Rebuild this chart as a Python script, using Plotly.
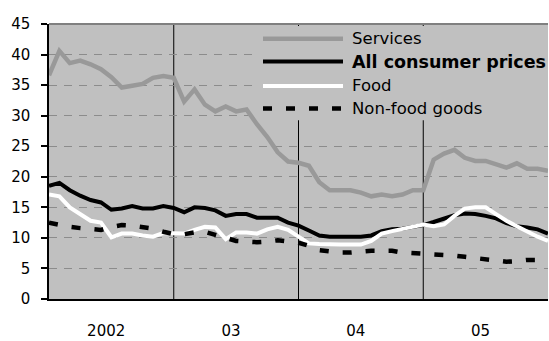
import plotly.graph_objects as go

# Monthly inflation rates, Jan 2002 - Jan 2006 (percent, year on year)
month_index = list(range(49))

services = [36.6, 40.6, 38.6, 39.0, 38.4, 37.6, 36.3, 34.6, 34.9, 35.2, 36.2, 36.5,
            36.2, 32.3, 34.3, 31.8, 30.7, 31.5, 30.7, 31.0, 28.6, 26.5, 24.0, 22.5,
            22.3, 21.8, 19.1, 17.8, 17.8, 17.8, 17.4, 16.8, 17.1, 16.8, 17.1, 17.8,
            17.8, 22.8, 23.8, 24.4, 23.1, 22.6, 22.6, 22.0, 21.5, 22.2, 21.3, 21.3,
            21.0]

all_consumer = [18.5, 19.0, 17.8, 16.9, 16.2, 15.8, 14.6, 14.8, 15.2, 14.8, 14.8, 15.2,
                14.9, 14.2, 15.0, 14.9, 14.5, 13.6, 13.9, 13.9, 13.3, 13.3, 13.3, 12.5,
                12.0, 11.2, 10.4, 10.2, 10.2, 10.2, 10.2, 10.4, 11.1, 11.4, 11.5, 11.8,
                12.1, 12.6, 13.2, 13.7, 14.0, 13.9, 13.6, 13.2, 12.4, 11.9, 11.7, 11.4,
                10.7]

food = [17.1, 16.8, 15.0, 13.8, 12.8, 12.5, 10.1, 10.7, 10.7, 10.4, 10.2, 10.8,
        10.8, 10.7, 11.3, 11.8, 11.7, 9.8, 10.9, 10.9, 10.7, 11.4, 11.8, 11.3,
        10.2, 9.1, 9.0, 8.9, 8.9, 8.9, 8.9, 9.5, 10.7, 11.1, 11.5, 11.8,
        12.2, 11.9, 12.2, 13.6, 14.8, 15.0, 15.0, 13.9, 12.8, 11.9, 11.0, 10.2,
        9.5]

non_food = [12.5, 12.1, 11.8, 11.6, 11.4, 11.3, 11.8, 12.1, 12.0, 11.8, 11.5, 11.0,
            10.6, 10.6, 10.9, 11.0, 10.5, 10.0, 9.5, 9.4, 9.3, 9.4, 9.6, 9.4,
            9.2, 8.7, 8.0, 7.8, 7.6, 7.6, 7.8, 7.9, 7.9, 7.9, 7.6, 7.5,
            7.5, 7.3, 7.2, 7.1, 6.9, 6.7, 6.5, 6.4, 6.1, 6.2, 6.4, 6.4,
            6.4]

year_labels = ["2002", "03", "04", "05"]
year_starts = [0, 12, 24, 36]
year_breaks = [12, 24, 36]
y_ticks = [0, 5, 10, 15, 20, 25, 30, 35, 40, 45]

legend_names = ["Services", "<b>All consumer prices</b>", "Food", "Non-food goods"]
legend_sizes = [16.5, 17.5, 16.5, 16.5]

GREY_LINE = "#999999"
PLOT_BG = "#c0c0c0"
FONT = "DejaVu Sans"

series = [
    (services, dict(color=GREY_LINE, width=4.5)),
    (all_consumer, dict(color="black", width=4)),
    (food, dict(color="white", width=4)),
    (non_food, dict(color="black", width=4.5, dash="9px,14px")),
]

fig = go.Figure()
for values, line in series:
    fig.add_trace(go.Scatter(x=month_index, y=values, mode="lines", line=line,
                             showlegend=False, hoverinfo="skip"))

shapes = []
# year separators
for xb in year_breaks:
    shapes.append(dict(type="line", xref="x", yref="paper", x0=xb, x1=xb, y0=0, y1=1,
                       line=dict(color="black", width=1), layer="below"))
# top frame line
shapes.append(dict(type="line", xref="paper", yref="paper", x0=0, x1=1, y0=1, y1=1,
                   line=dict(color="#808080", width=2), layer="above"))

# legend panel, drawn by hand so the swatches can be long
W, H, L, T = 499.0, 283.0, 49.0, 24.0
def px_x(p):
    return (p - L) / W
def px_y(p):
    return 1 - (p - T) / H

shapes.append(dict(type="rect", xref="paper", yref="paper",
                   x0=px_x(258), x1=1.0, y0=px_y(123), y1=px_y(26),
                   fillcolor=PLOT_BG, line=dict(width=0), layer="above"))

rows_px = [39.3, 62.7, 87.7, 111.0]
annotations = []
for (values, line), name, size, ry in zip(series, legend_names, legend_sizes, rows_px):
    shapes.append(dict(type="line", xref="paper", yref="paper",
                       x0=px_x(263), x1=px_x(343), y0=px_y(ry), y1=px_y(ry),
                       line=line, layer="above"))
    annotations.append(dict(xref="paper", yref="paper", x=px_x(350), y=px_y(ry),
                            xanchor="left", yanchor="middle", showarrow=False,
                            text=name, font=dict(family=FONT, size=size, color="black")))

fig.update_layout(
    width=549, height=341,
    margin=dict(l=49, r=1, t=24, b=34),
    paper_bgcolor="white",
    plot_bgcolor=PLOT_BG,
    shapes=shapes,
    annotations=annotations,
    showlegend=False,
    font=dict(family=FONT, size=15, color="black"),
)

fig.update_xaxes(
    range=[0, 48],
    tickmode="array",
    tickvals=[s + 5.5 for s in year_starts],
    ticktext=year_labels,
    ticks="",
    showgrid=False,
    zeroline=False,
    showline=True, linecolor="black", linewidth=1.5,
    ticklabelstandoff=17,
    tickfont=dict(family=FONT, size=15, color="black"),
)

fig.update_yaxes(
    range=[0, 45],
    tickmode="array",
    tickvals=y_ticks,
    ticks="outside", ticklen=6, tickwidth=1.5, tickcolor="black",
    showgrid=True, gridcolor="#8c8c8c", gridwidth=1, griddash="8px,7px",
    zeroline=False,
    showline=True, linecolor="black", linewidth=1.5,
    ticklabelstandoff=8,
    tickfont=dict(family=FONT, size=15, color="black"),
)

fig.write_html("out.html")
